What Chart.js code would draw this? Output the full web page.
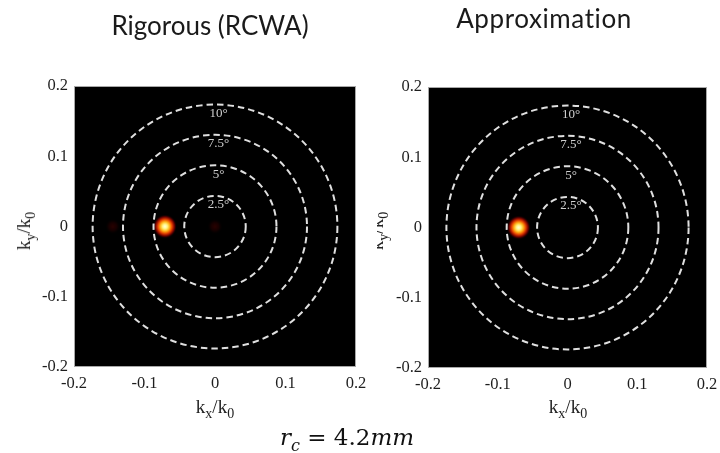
<!DOCTYPE html>
<html>
<head>
<meta charset="utf-8">
<script src="https://cdn.jsdelivr.net/npm/chart.js@4/dist/chart.umd.min.js"></script>
<style>
  html, body { margin: 0; padding: 0; background: #fff; }
  body { width: 720px; height: 453px; position: relative; overflow: hidden; }
  canvas { position: absolute; top: 0; }
  .title { position: absolute; font-family: Lato, "Open Sans", sans-serif; font-size: 26px; color: #1a1a1a; white-space: nowrap; transform: translateX(-50%); line-height: 1; }
  .axlab { position: absolute; font-family: "Liberation Serif", serif; font-size: 19px; color: #222; white-space: nowrap; line-height: 1; }
  .axlab sub { font-size: 14px; vertical-align: -5px; }
  .ylab { transform: translate(-50%, -50%) rotate(-90deg); }
  .xlab { transform: translateX(-50%); }
  .clip { position: absolute; overflow: hidden; top: 0; height: 453px; }
  .formula { position: absolute; font-family: "DejaVu Serif", serif; font-size: 23px; color: #111; white-space: nowrap; transform: translateX(-50%); line-height: 1; }
  .formula sub { font-size: 16px; vertical-align: -6px; }
</style>
</head>
<body>
<canvas id="left" width="377" height="453" style="left:0px"></canvas>
<canvas id="right" width="343" height="453" style="left:377px"></canvas>

<div class="title" style="left:210px; top:12px;">Rigorous (RCWA)</div>
<div class="title" style="left:544px; top:5px; letter-spacing:0.6px;">Approximation</div>

<div class="axlab ylab" style="left:26px; top:231px;">k<sub>y</sub>/k<sub>0</sub></div>
<div class="clip" style="left:377px; width:40px;">
  <div class="axlab ylab" style="left:2px; top:231px;">k<sub>y</sub>/k<sub>0</sub></div>
</div>
<div class="axlab xlab" style="left:215px; top:397px;">k<sub>x</sub>/k<sub>0</sub></div>
<div class="axlab xlab" style="left:568px; top:397px;">k<sub>x</sub>/k<sub>0</sub></div>

<div class="formula" style="left:347px; top:426px;"><i>r<sub>c</sub></i>&nbsp;=&nbsp;4.2<i>mm</i></div>

<script>
// ---- data ----
const tickValues = [-0.2, -0.1, 0, 0.1, 0.2];
const tickLabels = ['-0.2', '-0.1', '0', '0.1', '0.2'];
const circleAngles = ['2.5', '5', '7.5', '10'];          // degrees
const circleRadii = [0.0436, 0.0872, 0.1305, 0.1736];    // k/k0 = sin(angle)
const rigorousMain = [{ x: -0.071, y: 0 }];
const rigorousGhost = [{ x: -0.145, y: 0 }, { x: 0.0, y: 0 }];
const approxMain = [{ x: -0.070, y: 0 }];

// ---- point sprites ----
function glowSprite(size, stops) {
  const c = document.createElement('canvas');
  c.width = size; c.height = size;
  const g = c.getContext('2d');
  const r = size / 2;
  const grad = g.createRadialGradient(r, r, 0, r, r, r);
  stops.forEach(s => grad.addColorStop(s[0], s[1]));
  g.fillStyle = grad;
  g.fillRect(0, 0, size, size);
  return c;
}
const mainSprite = glowSprite(24, [
  [0.0, 'rgba(255,255,225,1)'],
  [0.2, 'rgba(255,245,130,1)'],
  [0.4, 'rgba(255,175,20,1)'],
  [0.6, 'rgba(230,60,0,1)'],
  [0.8, 'rgba(120,0,0,0.9)'],
  [1.0, 'rgba(0,0,0,0)']
]);
const ghostSprite = glowSprite(16, [
  [0.0, 'rgba(42,2,0,1)'],
  [0.5, 'rgba(28,0,0,0.8)'],
  [1.0, 'rgba(0,0,0,0)']
]);

// ---- plugins ----
const bgPlugin = {
  id: 'bg',
  beforeDatasetsDraw(chart) {
    const a = chart.chartArea, ctx = chart.ctx;
    ctx.save();
    ctx.fillStyle = '#000';
    ctx.fillRect(a.left, a.top, a.right - a.left, a.bottom - a.top);
    ctx.restore();
  },
  afterDatasetsDraw(chart) {
    const a = chart.chartArea, ctx = chart.ctx;
    const xs = chart.scales.x, ys = chart.scales.y;
    const cx = xs.getPixelForValue(0), cy = ys.getPixelForValue(0);
    ctx.save();
    ctx.beginPath();
    ctx.rect(a.left, a.top, a.right - a.left, a.bottom - a.top);
    ctx.clip();
    ctx.strokeStyle = 'rgba(235,235,235,0.95)';
    ctx.lineWidth = 2;
    ctx.setLineDash([6.5, 4]);
    circleRadii.forEach((r, i) => {
      const rx = xs.getPixelForValue(r) - cx;
      const ry = cy - ys.getPixelForValue(r);
      ctx.beginPath();
      ctx.ellipse(cx, cy, rx, ry, 0, 0, Math.PI * 2);
      ctx.stroke();
    });
    ctx.setLineDash([]);
    ctx.fillStyle = '#d0d0d0';
    ctx.font = '13px "Liberation Serif", serif';
    ctx.textAlign = 'center';
    ctx.textBaseline = 'middle';
    circleRadii.forEach((r, i) => {
      const ty = ys.getPixelForValue(r) + 9;
      const tx = xs.getPixelForValue(0.005);
      ctx.fillText(circleAngles[i] + '\u00B0', tx, ty);
    });
    ctx.restore();
    ctx.save();
    ctx.strokeStyle = '#a8a8a8';
    ctx.lineWidth = 1;
    ctx.strokeRect(a.left + 0.5, a.top + 0.5, a.right - a.left - 1, a.bottom - a.top - 1);
    ctx.restore();
  }
};

function makeChart(id, main, ghost, box) {
  const datasets = [];
  if (ghost.length) datasets.push({ data: ghost, pointStyle: ghostSprite, pointRadius: 8, showLine: false });
  datasets.push({ data: main, pointStyle: mainSprite, pointRadius: 12, showLine: false });
  const tickFont = { family: '"Liberation Serif", serif', size: 16.5 };
  return new Chart(document.getElementById(id), {
    type: 'scatter',
    data: { datasets },
    options: {
      responsive: false,
      animation: false,
      devicePixelRatio: 1,
      layout: { padding: { top: box.top, right: box.right, bottom: 0, left: 0 } },
      plugins: { legend: { display: false }, tooltip: { enabled: false } },
      events: [],
      scales: {
        x: {
          type: 'linear', min: -0.2, max: 0.2,
          grid: { display: false, drawTicks: false },
          border: { display: false },
          afterBuildTicks: s => { s.ticks = tickValues.map(v => ({ value: v })); },
          afterFit: s => { s.height = box.xh; s.paddingLeft = 0; s.paddingRight = 0; },
          ticks: { color: '#1e1e1e', font: tickFont, padding: 7, maxRotation: 0,
            callback: (v, i) => tickLabels[i] }
        },
        y: {
          type: 'linear', min: -0.2, max: 0.2,
          grid: { display: false, drawTicks: false },
          border: { display: false },
          afterBuildTicks: s => { s.ticks = tickValues.map(v => ({ value: v })); },
          afterFit: s => { s.width = box.yw; s.paddingTop = 0; s.paddingBottom = 0; },
          ticks: { color: '#1e1e1e', font: tickFont, padding: 6,
            callback: (v, i) => tickLabels[i] }
        }
      }
    },
    plugins: [bgPlugin]
  });
}

makeChart('left', rigorousMain, rigorousGhost, { top: 86, right: 377 - 356, yw: 74, xh: 453 - 367 });
makeChart('right', approxMain, [], { top: 87, right: 343 - 331, yw: 51, xh: 453 - 368 });
</script>
</body>
</html>
